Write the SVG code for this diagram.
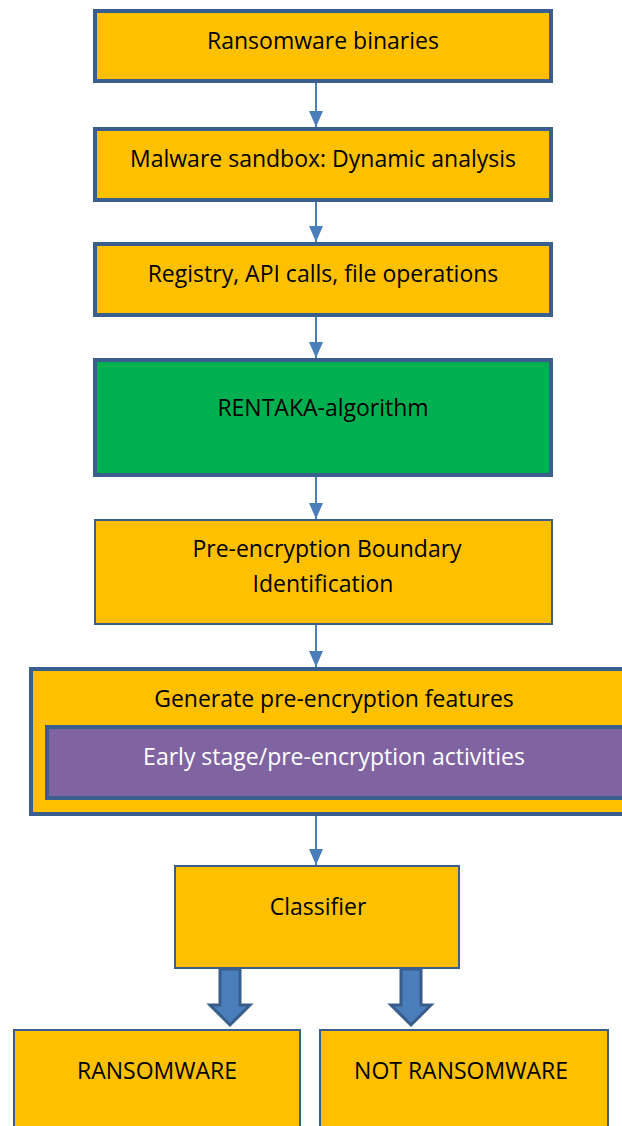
<svg xmlns="http://www.w3.org/2000/svg" width="622" height="1126" viewBox="0 0 622 1126">
<defs>
<style>
.box{fill:#FFC000;stroke:#3A5F8F;stroke-width:4}
.thin{fill:#FFC000;stroke:#3A5F8F;stroke-width:2}
.t{font-family:"Open Sans","Liberation Sans",sans-serif;font-size:23px;fill:#000;text-anchor:middle}
.w{fill:#fff}
.conn{stroke:#4A7EBB;stroke-width:2;fill:none}
.fat{fill:#4A7EBB;stroke:#385D8A;stroke-width:3;stroke-linejoin:miter}
</style>
<marker id="ah" viewBox="0 0 16 14" refX="16" refY="7" markerWidth="16" markerHeight="14" markerUnits="userSpaceOnUse" orient="auto">
<path d="M0,0 L16,7 L0,14 Z" fill="#4A7EBB"/>
</marker>
</defs>
<rect width="622" height="1126" fill="#fff"/>
<g id="connectors">
<line class="conn" x1="316" y1="83" x2="316" y2="127" marker-end="url(#ah)"/>
<line class="conn" x1="316" y1="202" x2="316" y2="242" marker-end="url(#ah)"/>
<line class="conn" x1="316" y1="317" x2="316" y2="358" marker-end="url(#ah)"/>
<line class="conn" x1="316" y1="477" x2="316" y2="519" marker-end="url(#ah)"/>
<line class="conn" x1="316" y1="625" x2="316" y2="667" marker-end="url(#ah)"/>
<line class="conn" x1="316" y1="816" x2="316" y2="865" marker-end="url(#ah)"/>
<polygon class="fat" points="220,969 240,969 240,1005 250,1005 230,1025 210,1005 220,1005"/>
<polygon class="fat" points="401,969 421,969 421,1005 431,1005 411,1025 391,1005 401,1005"/>
</g>
<g id="n1"><rect class="box" x="95" y="11" width="456" height="70"/><text class="t" x="323" y="49">Ransomware binaries</text></g>
<g id="n2"><rect class="box" x="95" y="129" width="456" height="71"/><text class="t" x="323" y="167">Malware sandbox: Dynamic analysis</text></g>
<g id="n3"><rect class="box" x="95" y="244" width="456" height="71"/><text class="t" x="323" y="282">Registry, API calls, file operations</text></g>
<g id="n4"><rect class="box" x="95" y="360" width="456" height="115" style="fill:#00B050"/><text class="t" x="323" y="416">RENTAKA-algorithm</text></g>
<g id="n5"><rect class="thin" x="95" y="520" width="457" height="104"/><text class="t" x="327" y="557">Pre-encryption Boundary</text><text class="t" x="323" y="592">Identification</text></g>
<g id="n6"><rect class="box" x="31" y="669" width="600" height="145"/><text class="t" x="334" y="707">Generate pre-encryption features</text>
<g id="n6a"><rect class="box" x="47" y="727" width="600" height="71" style="fill:#8064A2"/><text class="t w" x="334" y="765">Early stage/pre-encryption activities</text></g></g>
<g id="n7"><rect class="thin" x="175" y="866" width="284" height="102"/><text class="t" x="318" y="915">Classifier</text></g>
<g id="n8"><rect class="thin" x="14" y="1030" width="286" height="110"/><text class="t" x="157" y="1079">RANSOMWARE</text></g>
<g id="n9"><rect class="thin" x="320" y="1030" width="288" height="110"/><text class="t" x="461" y="1079">NOT RANSOMWARE</text></g>
</svg>
